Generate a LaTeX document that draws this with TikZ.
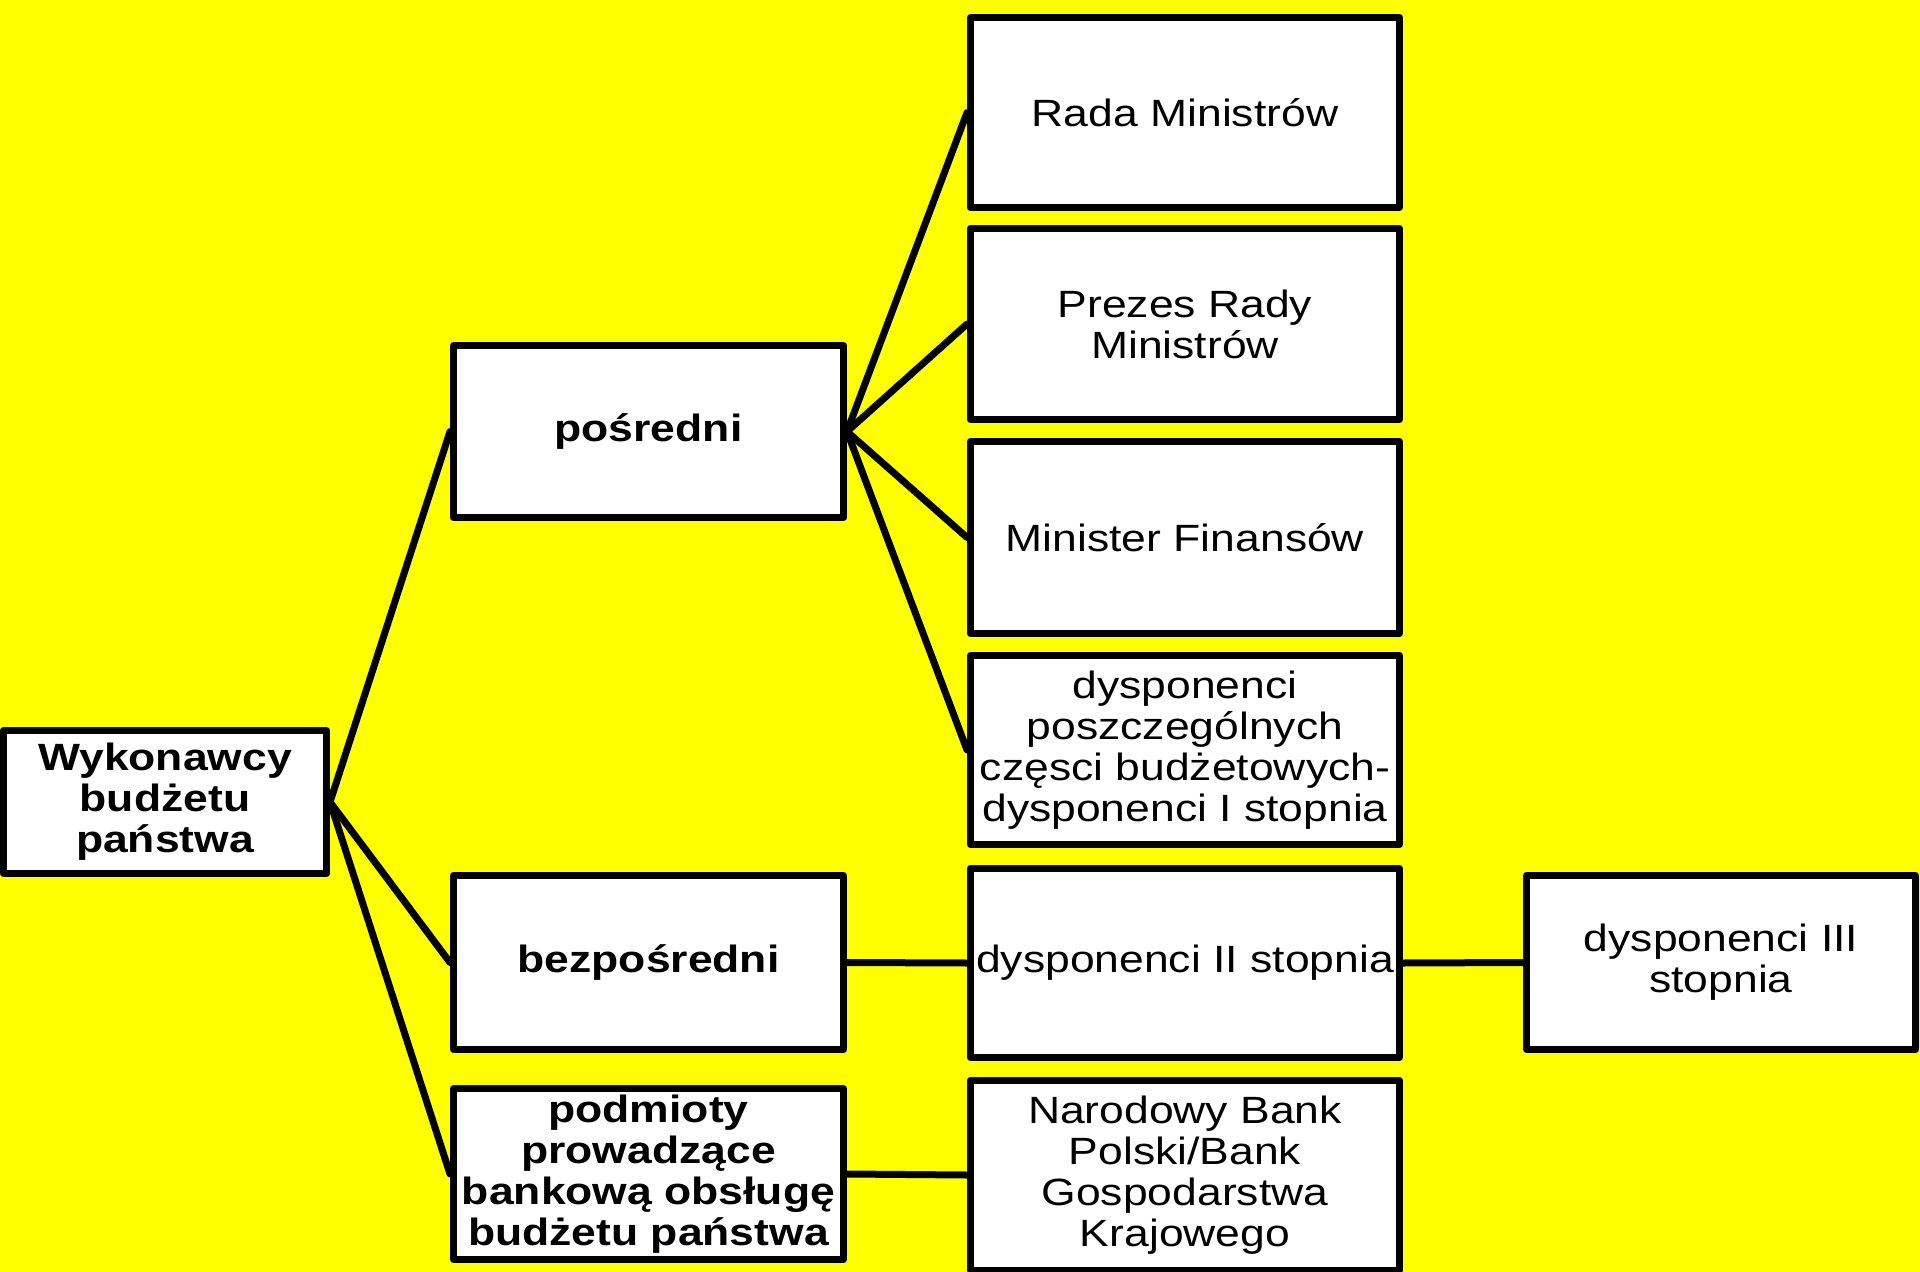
\documentclass[tikz,border=0pt]{standalone}
\usepackage{fontspec}
\setmainfont{Liberation Sans}[FakeStretch=1.17]
\definecolor{bgyellow}{RGB}{255,255,0}
\begin{document}
\begin{tikzpicture}[x=0.5pt,y=-0.5pt,
  box/.style={draw=black, fill=white, line width=3.5pt, line join=round, inner sep=0pt, align=center, font=\fontsize{19pt}{20.5pt}\selectfont},
  bbox/.style={box, font=\fontsize{19pt}{20.5pt}\selectfont\bfseries},
  link/.style={line width=3.5pt, line cap=round}]
\fill[bgyellow] (0,0) rectangle (1920,1272);
\useasboundingbox (0,0) rectangle (1920,1272);

\node[bbox, minimum width=161.5pt, minimum height=71.5pt] (root) at (165,802) {Wykonawcy\\budżetu\\państwa};
\node[bbox, minimum width=195pt, minimum height=86pt] (posr) at (648.5,431.5) {pośredni};
\node[bbox, minimum width=195pt, minimum height=87pt] (bezp) at (648.5,962.5) {bezpośredni};
\node[bbox, minimum width=195pt, minimum height=85.5pt] (podm) at (648.5,1174) {podmioty\\prowadzące\\bankową obsługę\\budżetu państwa};

\node[box, minimum width=214.5pt, minimum height=95pt] (rada) at (1185,112.5) {Rada Ministrów};
\node[box, minimum width=214.5pt, minimum height=95.5pt] (prezes) at (1185,324) {Prezes Rady\\Ministrów};
\node[box, minimum width=214.5pt, minimum height=96pt] (minfin) at (1185,537.5) {Minister Finansów};
\node[box, minimum width=214.5pt, minimum height=94.5pt] (dysp1) at (1185,750) {dysponenci\\poszczególnych\\częsci budżetowych-\\dysponenci I stopnia};
\node[box, minimum width=214.5pt, minimum height=94.5pt] (dysp2) at (1185,963) {dysponenci II stopnia};
\node[box, minimum width=214.5pt, minimum height=95pt] (nbp) at (1185,1175) {Narodowy Bank\\Polski/Bank\\Gospodarstwa\\Krajowego};
\node[box, minimum width=194.5pt, minimum height=87pt] (dysp3) at (1721,962.5) {dysponenci III\\stopnia};

\draw[link] (root.east) -- (posr.west);
\draw[link] (root.east) -- (bezp.west);
\draw[link] (root.east) -- (podm.west);
\draw[link] (posr.east) -- (rada.west);
\draw[link] (posr.east) -- (prezes.west);
\draw[link] (posr.east) -- (minfin.west);
\draw[link] (posr.east) -- (dysp1.west);
\draw[link] (bezp.east) -- (dysp2.west);
\draw[link] (dysp2.east) -- (dysp3.west);
\draw[link] (podm.east) -- (nbp.west);
\end{tikzpicture}
\end{document}
